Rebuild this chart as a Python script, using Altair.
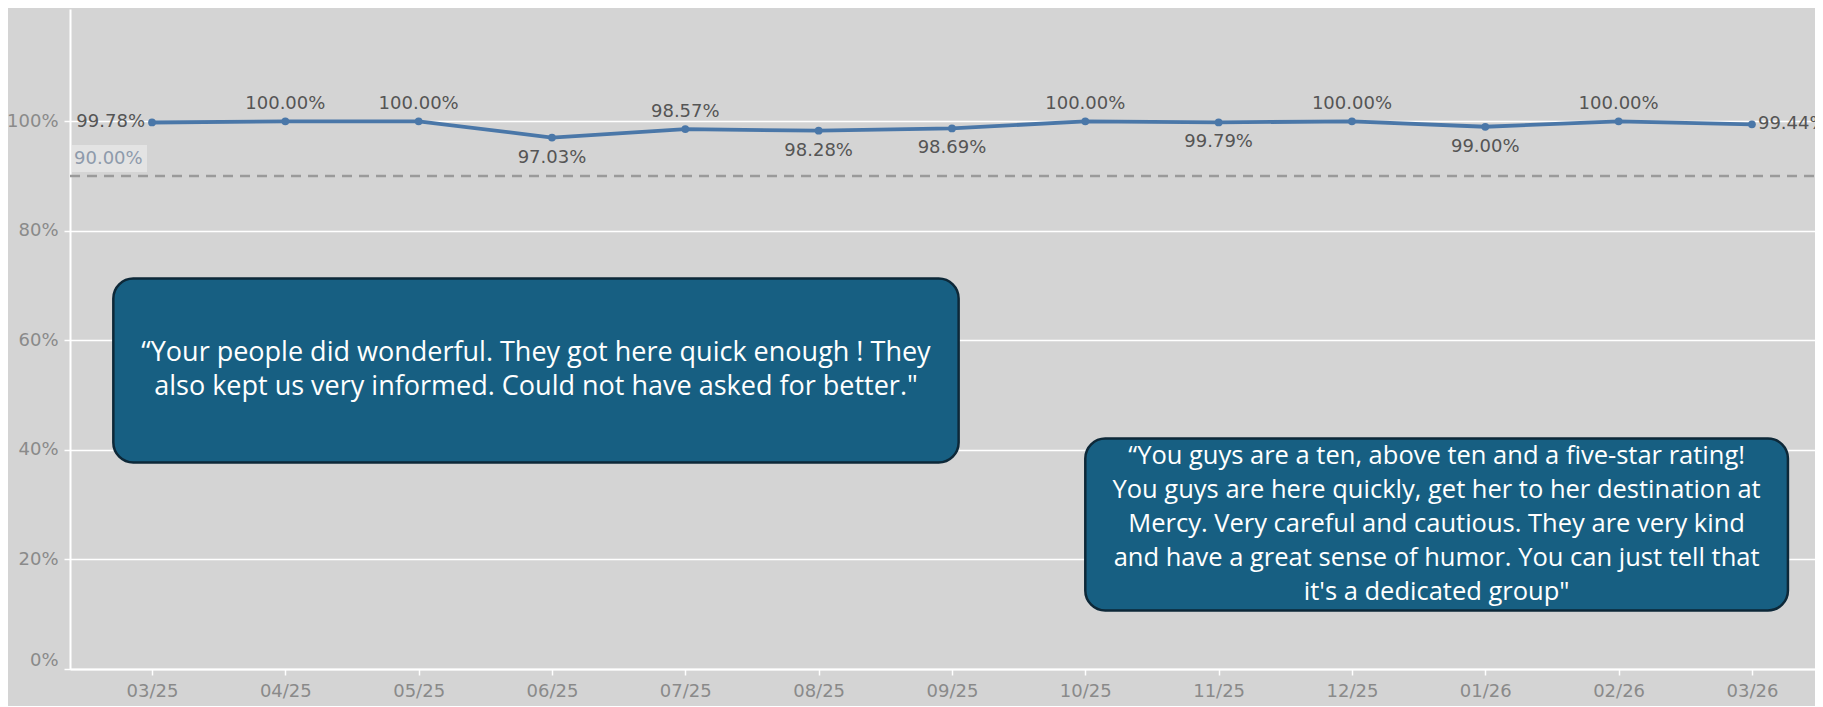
import json
import altair as alt
import pandas as pd

# ---- data ----
months = ["03/25", "04/25", "05/25", "06/25", "07/25", "08/25", "09/25",
          "10/25", "11/25", "12/25", "01/26", "02/26", "03/26"]
rates = [99.78, 100.00, 100.00, 97.03, 98.57, 98.28, 98.69,
         100.00, 99.79, 100.00, 99.00, 100.00, 99.44]
label_side = ["left", "above", "above", "below", "above", "below", "below",
              "above", "below", "above", "below", "above", "right"]
target = 90.0
y_ticks = [0, 20, 40, 60, 80, 100]

quote_lines = [
    ["\u201cYour people did wonderful. They got here quick enough ! They",
     "also kept us very informed. Could not have asked for better.\""],
    ["\u201cYou guys are a ten, above ten and a five-star rating!",
     "You guys are here quickly, get her to her destination at",
     "Mercy. Very careful and cautious.  They are very kind",
     "and have a great sense of humor. You can just tell that",
     "it's a dedicated group\""],
]
# annotation boxes placed in data space (month index, percent)
quote_x0 = [-0.29, 7.0]
quote_x1 = [6.05, 12.27]
quote_y0 = [37.7, 10.7]
quote_y1 = [71.3, 42.1]

# ---- tables ----
df = pd.DataFrame({
    "i": list(range(len(months))),
    "month": months,
    "rate": rates,
    "side": label_side,
    "lbl": [f"{v:.2f}%" for v in rates],
})
qdf = pd.DataFrame({
    "q": list(range(len(quote_lines))),
    "quote": ["\n".join(l) for l in quote_lines],
    "x0": quote_x0, "x1": quote_x1, "y0": quote_y0, "y1": quote_y1,
})
qdf["xc"] = (qdf["x0"] + qdf["x1"]) / 2
qdf["yc"] = (qdf["y0"] + qdf["y1"]) / 2
tdf = pd.DataFrame({"t": [target], "lbl": [f"{target:.2f}%"]})

BG = "#d4d4d4"
LINE = "#4a77a8"
AXIS_GRAY = "#8a8a8a"
LABEL_GRAY = "#555555"
FONT = "DejaVu Sans"
QFONT = "Open Sans"
QFONT_SIZES = [27, 25.5]
LINE_H = 34

xscale = alt.Scale(domain=[-0.615, 12.473], nice=False, zero=False)
yscale = alt.Scale(domain=[0, 120.5], nice=False, zero=True)

x_axis = alt.Axis(
    values=list(range(len(months))),
    labelExpr=json.dumps(months) + "[datum.value]",
    grid=False, domainColor="white", domainWidth=2,
    tickColor="white", tickSize=6, tickWidth=1.5,
    labelColor=AXIS_GRAY, labelFontSize=18, labelFont=FONT,
    labelPadding=7, title=None,
)
y_axis = alt.Axis(
    values=y_ticks,
    labelExpr="datum.value + '%'",
    grid=True, gridColor="white", gridWidth=1.5,
    domainColor="white", domainWidth=2,
    tickColor="white", tickSize=6, tickWidth=1.5,
    labelColor=AXIS_GRAY, labelFontSize=18, labelFont=FONT,
    labelPadding=6, labelFlush=True, title=None,
)


def xq(field):
    return alt.X(field, type="quantitative", scale=xscale, axis=x_axis, title=None)


def yq(field):
    return alt.Y(field, type="quantitative", scale=yscale, axis=y_axis, title=None)


base = alt.Chart(df)

line = base.mark_line(color=LINE, strokeWidth=3.8).encode(x=xq("i"), y=yq("rate"))
pts = base.mark_circle(color=LINE, size=60, opacity=1).encode(x=xq("i"), y=yq("rate"))

# target reference line
ref = alt.Chart(tdf).mark_rule(color="#9a9a9a", strokeWidth=2.5, strokeDash=[10, 7]).encode(
    y=yq("t"), x=alt.value(0), x2=alt.value(1745),
)
ref_box = alt.Chart(tdf).mark_rect(color="#e3e3e3", yOffset=-31, y2Offset=-4).encode(
    y=yq("t"), y2=alt.Y2("t:Q"), x=alt.value(2), x2=alt.value(77),
)
ref_lbl = alt.Chart(tdf).mark_text(
    align="left", baseline="middle", dy=-17, fontSize=18, font=FONT, color="#8e9aab"
).encode(y=yq("t"), x=alt.value(4), text="lbl:N")


def labels(side, **kw):
    return base.transform_filter(alt.datum.side == side).mark_text(
        fontSize=18, font=FONT, color=LABEL_GRAY, **kw
    ).encode(x=xq("i"), y=yq("rate"), text="lbl:N")


lab_above = labels("above", align="center", baseline="alphabetic", dy=-12)
lab_below = labels("below", align="center", baseline="top", dy=11)
lab_left = labels("left", align="right", baseline="middle", dx=-7)
lab_right = labels("right", align="left", baseline="middle", dx=6)

boxes = alt.Chart(qdf).mark_rect(
    cornerRadius=20, fill="#175f82", stroke="#0d2838", strokeWidth=2.5
).encode(x=xq("x0"), x2="x1:Q", y=yq("y1"), y2="y0:Q")

box_texts = []
for k, lines in enumerate(quote_lines):
    box_texts.append(
        alt.Chart(qdf).transform_filter(alt.datum.q == k).mark_text(
            color="white", fontSize=QFONT_SIZES[k], font=QFONT, lineBreak="\n",
            lineHeight=LINE_H, align="center", baseline="middle",
            dy=-(len(lines) - 1) * LINE_H / 2,
        ).encode(x=xq("xc"), y=yq("yc"), text="quote:N")
    )

chart = alt.layer(
    line, ref_box, ref, ref_lbl, pts, lab_above, lab_below, lab_left, lab_right,
    boxes, *box_texts,
).properties(
    width=1745, height=660,
    background=BG,
    autosize=alt.AutoSizeParams(type="none"),
    padding={"left": 62, "top": 1, "right": 0, "bottom": 37},
).configure_view(stroke=None)

chart.save("out.html", embed_options={"renderer": "svg", "actions": False})
